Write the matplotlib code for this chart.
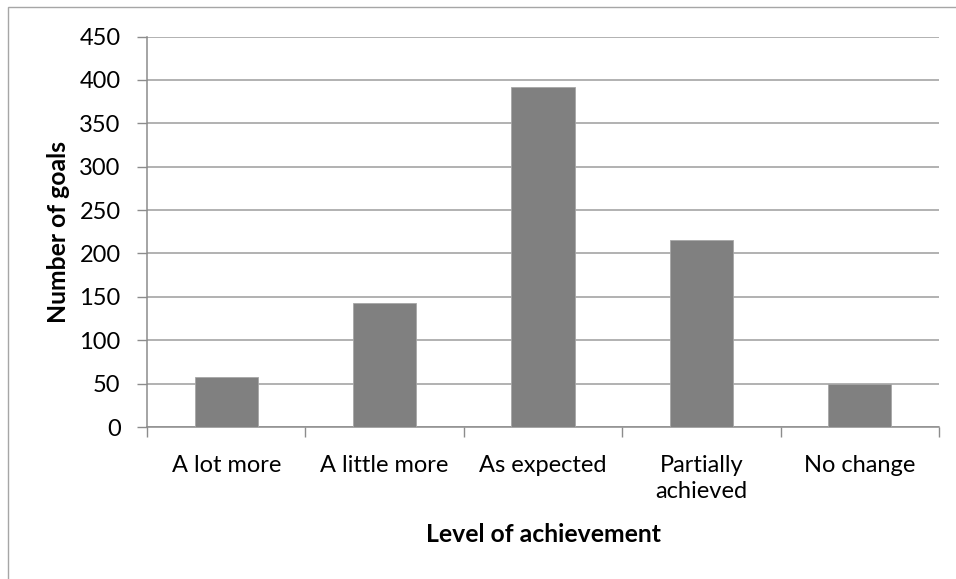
import matplotlib
matplotlib.use("Agg")
import matplotlib.pyplot as plt
from matplotlib.patches import Rectangle
import numpy as np

categories = ["A lot more", "A little more", "As expected", "Partially\nachieved", "No change"]
goals = [58, 143, 392, 215, 49]
yticks = [0, 50, 100, 150, 200, 250, 300, 350, 400, 450]

plt.rcParams['font.family'] = ['Lato', 'DejaVu Sans']

W, H = 956, 579
FS = 17
fig = plt.figure(figsize=(W / 100, H / 100), dpi=100)
ax = fig.add_axes([147 / W, 1 - 427 / H, (939 - 147) / W, (427 - 36.5) / H])

x = np.arange(len(categories))
ax.bar(x, goals, width=0.4, color="#808080", edgecolor="#a6a6a6", linewidth=0.6, zorder=3)

ax.set_xlim(-0.5, len(categories) - 0.5)
ax.set_ylim(0, 450)
ax.set_yticks(yticks)
ax.set_yticklabels([str(v) for v in yticks], fontsize=FS)
ax.set_xticks(x)
ax.set_xticklabels(categories, fontsize=FS, linespacing=1.3)
ax.tick_params(axis='x', which='major', length=0, pad=20)
ax.set_xticks(np.arange(-0.5, len(categories), 1.0), minor=True)
ax.tick_params(axis='x', which='minor', length=7, width=1, color="#8c8c8c", direction='out')
ax.tick_params(axis='y', length=7, width=1, color="#8c8c8c", direction='out', pad=12)

ax.grid(axis='y', color="#9d9d9d", linewidth=1.1, zorder=0)
ax.set_axisbelow(True)
for s in ['top', 'right']:
    ax.spines[s].set_visible(False)
for s in ['left', 'bottom']:
    ax.spines[s].set_color("#8c8c8c")
    ax.spines[s].set_linewidth(1.1)

fig.text(543 / W, 1 - 535 / H, "Level of achievement", ha='center', va='center',
         fontsize=17.8, fontweight='bold')
fig.text(58 / W, 1 - 232 / H, "Number of goals", ha='center', va='center',
         rotation=90, fontsize=17.8, fontweight='bold')

fig.patches.append(Rectangle((8 / W, -0.05), 1.1, 1 - 7 / H + 0.05,
                             transform=fig.transFigure, fill=False,
                             edgecolor="#a6a6a6", linewidth=1.0))

fig.savefig("out.png", dpi=100, facecolor="white")
